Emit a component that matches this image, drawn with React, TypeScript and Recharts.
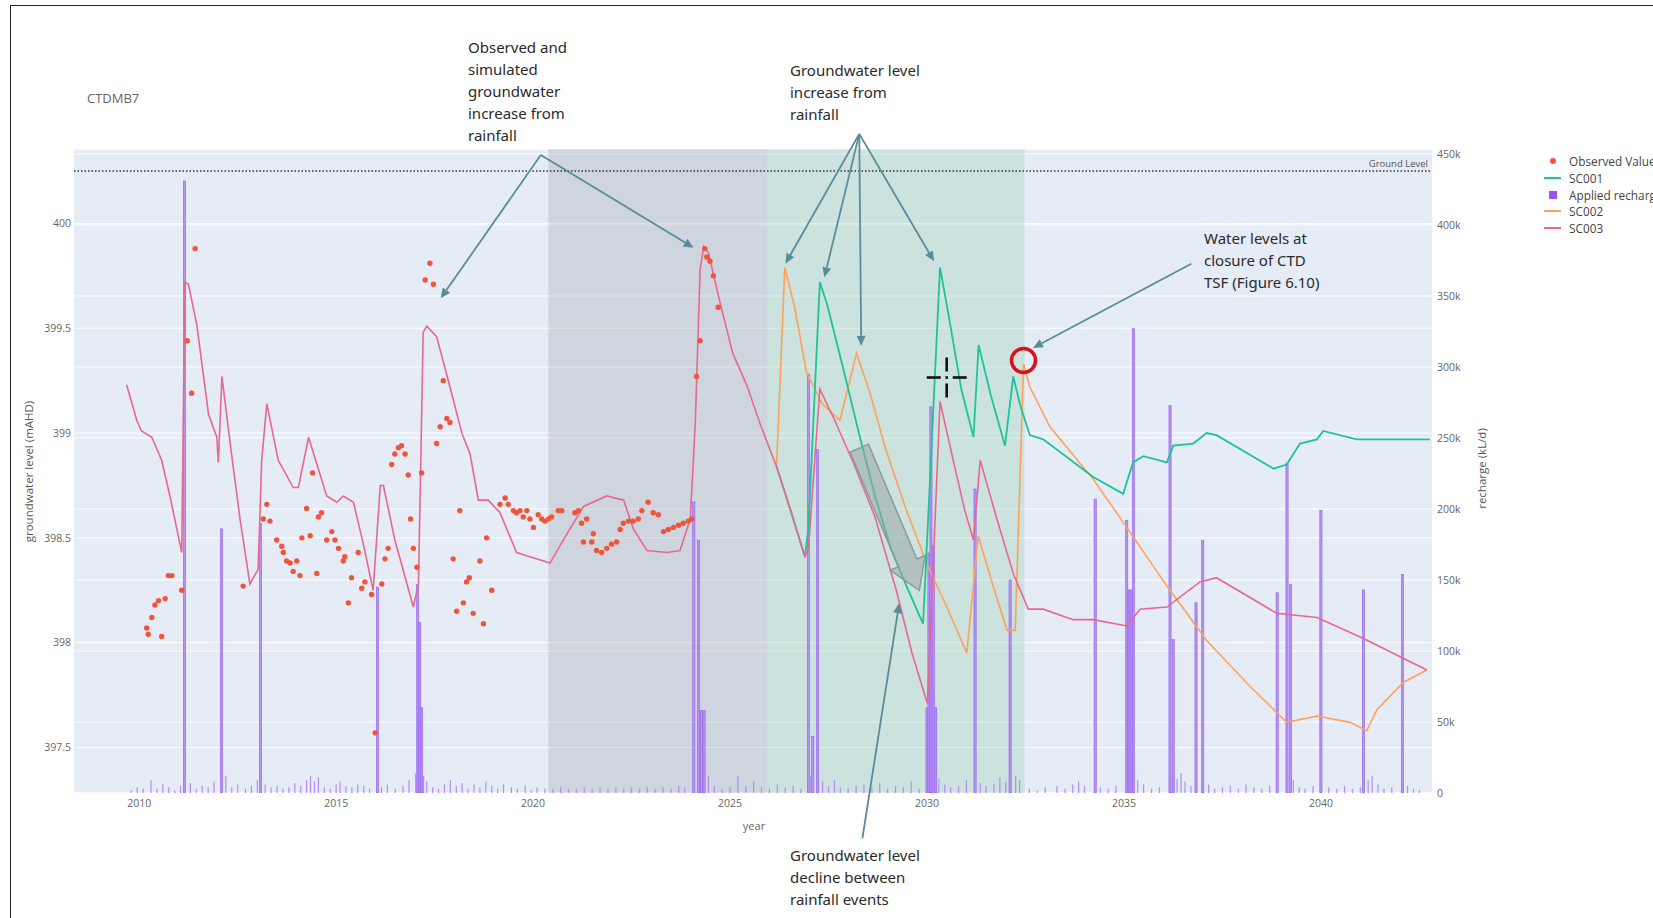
import React from "react";
import {
  ComposedChart,
  Line,
  Bar,
  XAxis,
  YAxis,
  CartesianGrid,
  ReferenceArea,
  ReferenceLine,
  ReferenceDot,
} from "recharts";

type Pt = [number, number];

// axis ticks
const yearTicks = [2010, 2015, 2020, 2025, 2030, 2035, 2040];
const levelTicks = [397.5, 398, 398.5, 399, 399.5, 400];
const rechargeTicks = [0, 50000, 100000, 150000, 200000, 250000, 300000, 350000, 400000, 450000];

const groundLevel = 400.25;

// shaded periods (year from, year to)
const greyPeriod: Pt = [2020.385, 2025.95];
const greenPeriod: Pt = [2025.95, 2032.48];

// observed groundwater level [year, mAHD]
const observed: Pt[] = [
  [2010.19, 398.07], [2010.23, 398.04], [2010.32, 398.12], [2010.4, 398.18], [2010.49, 398.2],
  [2010.57, 398.03], [2010.66, 398.21], [2010.74, 398.32], [2010.83, 398.32], [2011.08, 398.25],
  [2011.22, 399.44], [2011.33, 399.19], [2011.42, 399.88], [2012.64, 398.27], [2013.15, 398.59],
  [2013.24, 398.66], [2013.32, 398.58], [2013.49, 398.49], [2013.62, 398.46], [2013.66, 398.43],
  [2013.74, 398.39], [2013.83, 398.38], [2013.91, 398.34], [2014.0, 398.39], [2014.08, 398.32],
  [2014.13, 398.5], [2014.25, 398.64], [2014.34, 398.51], [2014.4, 398.81], [2014.51, 398.33],
  [2014.55, 398.6], [2014.63, 398.62], [2014.76, 398.49], [2014.89, 398.53], [2014.97, 398.49],
  [2015.06, 398.45], [2015.18, 398.39], [2015.22, 398.41], [2015.31, 398.19], [2015.39, 398.31],
  [2015.56, 398.43], [2015.65, 398.26], [2015.73, 398.29], [2015.9, 398.23], [2015.99, 397.57],
  [2016.16, 398.28], [2016.24, 398.4], [2016.32, 398.45], [2016.41, 398.85], [2016.49, 398.9],
  [2016.58, 398.93], [2016.66, 398.94], [2016.75, 398.9], [2016.83, 398.8], [2016.89, 398.59],
  [2016.96, 398.45], [2017.05, 398.36], [2017.17, 398.81], [2017.26, 399.73], [2017.38, 399.81],
  [2017.47, 399.71], [2017.55, 398.95], [2017.64, 399.03], [2017.72, 399.25], [2017.81, 399.07],
  [2017.89, 399.05], [2017.97, 398.4], [2018.06, 398.15], [2018.14, 398.63], [2018.23, 398.19],
  [2018.31, 398.29], [2018.38, 398.31], [2018.48, 398.14], [2018.65, 398.39], [2018.74, 398.09],
  [2018.82, 398.5], [2018.95, 398.25], [2019.16, 398.66], [2019.29, 398.69], [2019.37, 398.66],
  [2019.5, 398.63], [2019.58, 398.62], [2019.67, 398.63], [2019.75, 398.6], [2019.84, 398.63],
  [2019.92, 398.59], [2020.01, 398.55], [2020.13, 398.61], [2020.22, 398.59], [2020.3, 398.58],
  [2020.39, 398.59], [2020.47, 398.6], [2020.64, 398.63], [2020.73, 398.63], [2021.06, 398.62],
  [2021.15, 398.63], [2021.23, 398.57], [2021.28, 398.48], [2021.36, 398.59], [2021.49, 398.48],
  [2021.53, 398.52], [2021.61, 398.44], [2021.74, 398.43], [2021.87, 398.45], [2021.99, 398.47],
  [2022.12, 398.48], [2022.21, 398.54], [2022.29, 398.57], [2022.42, 398.58], [2022.54, 398.58],
  [2022.67, 398.59], [2022.76, 398.63], [2022.92, 398.67], [2023.05, 398.62], [2023.18, 398.61],
  [2023.31, 398.53], [2023.43, 398.54], [2023.56, 398.55], [2023.69, 398.56], [2023.81, 398.57],
  [2023.94, 398.58], [2024.03, 398.59], [2024.15, 399.27], [2024.24, 399.44], [2024.36, 399.88],
  [2024.41, 399.84], [2024.49, 399.82], [2024.58, 399.75], [2024.7, 399.6],
];

// SC003 (includes the shared calibration history)
const sc003: Pt[] = [
  [2009.68, 399.23], [2009.94, 399.06], [2010.06, 399.01], [2010.32, 398.98], [2010.57, 398.87],
  [2010.78, 398.7], [2011.08, 398.43], [2011.16, 399.72], [2011.25, 399.71], [2011.46, 399.52],
  [2011.76, 399.09], [2011.97, 398.98], [2012.01, 398.86], [2012.1, 399.27], [2012.31, 398.95],
  [2012.56, 398.59], [2012.81, 398.28], [2013.02, 398.35], [2013.11, 398.87], [2013.24, 399.14],
  [2013.53, 398.87], [2013.91, 398.74], [2014.04, 398.74], [2014.3, 398.98], [2014.76, 398.7],
  [2015.02, 398.67], [2015.18, 398.7], [2015.44, 398.67], [2015.69, 398.47], [2015.94, 398.25],
  [2016.12, 398.75], [2016.2, 398.75], [2016.49, 398.49], [2016.96, 398.17], [2017.09, 398.28],
  [2017.21, 399.48], [2017.3, 399.51], [2017.55, 399.46], [2017.89, 399.22], [2018.19, 399.0],
  [2018.4, 398.9], [2018.61, 398.68], [2018.86, 398.68], [2019.16, 398.62], [2019.58, 398.43],
  [2019.92, 398.41], [2020.43, 398.38], [2020.77, 398.49], [2021.28, 398.65], [2021.87, 398.7],
  [2022.3, 398.68], [2022.55, 398.54], [2022.89, 398.44], [2023.4, 398.43], [2023.73, 398.44],
  [2023.99, 398.59], [2024.12, 399.06], [2024.24, 399.78], [2024.33, 399.89], [2024.45, 399.86],
  [2024.75, 399.62], [2025.07, 399.38], [2025.42, 399.23], [2025.79, 399.03], [2026.18, 398.84],
  [2026.54, 398.63], [2026.9, 398.41], [2026.99, 398.45], [2027.28, 399.21], [2027.61, 399.08],
  [2028.15, 398.85], [2028.68, 398.6], [2029.22, 398.25], [2029.62, 397.95], [2030.01, 397.71],
  [2030.33, 399.15], [2030.69, 398.85], [2030.96, 398.63], [2031.18, 398.49], [2031.35, 398.87],
  [2031.76, 398.6], [2032.19, 398.33], [2032.57, 398.16], [2032.95, 398.16], [2033.71, 398.11],
  [2034.22, 398.11], [2035.07, 398.08], [2035.41, 398.16], [2036.09, 398.17], [2036.93, 398.29],
  [2037.35, 398.31], [2038.88, 398.14], [2039.9, 398.12], [2041.08, 398.02], [2042.69, 397.87],
];

const sc001: Pt[] = [
  [2026.18, 398.84], [2026.54, 398.63], [2026.9, 398.41], [2026.99, 398.55], [2027.28, 399.72],
  [2027.47, 399.61], [2027.87, 399.31], [2028.27, 399.0], [2028.68, 398.7], [2029.08, 398.45],
  [2029.48, 398.27], [2029.9, 398.09], [2030.12, 398.95], [2030.33, 399.79], [2030.55, 399.56],
  [2030.87, 399.21], [2031.18, 398.98], [2031.31, 399.42], [2031.62, 399.18], [2031.98, 398.94],
  [2032.19, 399.27], [2032.37, 399.13], [2032.61, 398.99], [2032.95, 398.97], [2034.22, 398.79],
  [2034.98, 398.71], [2035.23, 398.86], [2035.49, 398.89], [2036.09, 398.86], [2036.25, 398.94],
  [2036.76, 398.95], [2037.1, 399.0], [2037.35, 398.99], [2038.8, 398.83], [2039.13, 398.85],
  [2039.47, 398.95], [2039.9, 398.97], [2040.06, 399.01], [2040.91, 398.97], [2041.84, 398.97],
  [2042.77, 398.97],
];

const sc002: Pt[] = [
  [2026.18, 398.84], [2026.39, 399.79], [2026.64, 399.6], [2026.94, 399.29], [2027.34, 399.14],
  [2027.79, 399.06], [2028.21, 399.38], [2028.54, 399.2], [2028.94, 398.93], [2029.48, 398.63],
  [2029.99, 398.38], [2030.55, 398.15], [2031.01, 397.95], [2031.3, 398.51], [2031.68, 398.27],
  [2032.03, 398.06], [2032.24, 398.06], [2032.45, 399.33], [2032.61, 399.22], [2033.12, 399.03],
  [2034.22, 398.78], [2035.07, 398.55], [2036.09, 398.27], [2037.1, 398.01], [2038.21, 397.79],
  [2039.13, 397.62], [2039.9, 397.65], [2040.74, 397.62], [2041.16, 397.58], [2041.42, 397.68],
  [2042.09, 397.81], [2042.69, 397.87],
];

// applied recharge [year, thousand kL/d]
const majorRecharge: Pt[] = [
  [2011.15, 431], [2012.09, 186], [2013.08, 190], [2016.05, 145], [2017.07, 147], [2017.12, 120],
  [2017.17, 60], [2024.08, 205], [2024.2, 178], [2024.27, 58], [2024.34, 58], [2026.99, 295],
  [2027.1, 40], [2027.22, 242], [2030.0, 60], [2030.05, 169], [2030.1, 272], [2030.16, 174],
  [2030.22, 60], [2031.22, 214], [2032.11, 150], [2034.27, 207], [2035.07, 192], [2035.13, 143],
  [2035.18, 143], [2035.24, 327], [2036.17, 273], [2036.25, 108], [2036.83, 134], [2037.0, 178],
  [2038.89, 141], [2039.14, 232], [2039.23, 147], [2040.0, 199], [2041.08, 143], [2042.07, 154],
];

const minorRecharge: Pt[] = [
  [2009.8, 2], [2009.95, 4], [2010.1, 3], [2010.3, 9], [2010.45, 3], [2010.6, 6], [2010.75, 4],
  [2010.9, 2], [2011.05, 5], [2011.3, 7], [2011.45, 3], [2011.6, 5], [2011.75, 4], [2011.9, 8],
  [2012.2, 12], [2012.35, 4], [2012.5, 6], [2012.7, 3], [2012.85, 5], [2013.0, 9], [2013.2, 6],
  [2013.35, 4], [2013.5, 5], [2013.65, 3], [2013.8, 4], [2013.95, 7], [2014.1, 5], [2014.25, 9],
  [2014.35, 12], [2014.45, 8], [2014.55, 11], [2014.7, 4], [2014.85, 3], [2015.0, 6], [2015.1, 8],
  [2015.25, 5], [2015.4, 4], [2015.55, 6], [2015.7, 5], [2015.85, 3], [2016.15, 4], [2016.3, 6],
  [2016.5, 3], [2016.7, 5], [2016.85, 9], [2017.02, 14], [2017.22, 12], [2017.3, 8], [2017.45, 4],
  [2017.6, 3], [2017.75, 6], [2017.9, 9], [2018.05, 5], [2018.2, 7], [2018.35, 3], [2018.5, 6],
  [2018.65, 4], [2018.8, 8], [2018.95, 5], [2019.1, 3], [2019.25, 6], [2019.45, 4], [2019.6, 3],
  [2019.8, 5], [2019.95, 2], [2020.1, 4], [2020.3, 3], [2020.5, 3], [2020.7, 4], [2020.9, 3],
  [2021.1, 3], [2021.3, 4], [2021.5, 3], [2021.7, 4], [2021.9, 3], [2022.1, 4], [2022.3, 3],
  [2022.5, 4], [2022.7, 3], [2022.9, 4], [2023.1, 3], [2023.3, 4], [2023.5, 3], [2023.7, 5],
  [2023.85, 4], [2024.45, 12], [2024.6, 5], [2024.8, 3], [2025.0, 4], [2025.2, 12], [2025.4, 5],
  [2025.6, 8], [2025.8, 4], [2026.0, 3], [2026.2, 6], [2026.4, 4], [2026.6, 5], [2026.8, 3],
  [2027.05, 12], [2027.35, 8], [2027.5, 5], [2027.65, 9], [2027.8, 4], [2028.0, 3], [2028.2, 5],
  [2028.4, 6], [2028.6, 4], [2028.8, 7], [2029.0, 3], [2029.2, 5], [2029.4, 4], [2029.6, 8],
  [2029.8, 3], [2030.3, 10], [2030.45, 6], [2030.6, 4], [2030.8, 5], [2031.0, 9], [2031.35, 7],
  [2031.5, 5], [2031.7, 6], [2031.85, 11], [2032.0, 8], [2032.25, 12], [2032.35, 9], [2032.6, 3],
  [2032.8, 2], [2033.0, 4], [2033.3, 5], [2033.5, 3], [2033.7, 6], [2033.85, 8], [2034.0, 5],
  [2034.4, 4], [2034.6, 3], [2034.8, 5], [2035.35, 9], [2035.5, 6], [2035.7, 3], [2035.9, 4],
  [2036.35, 10], [2036.45, 14], [2036.55, 8], [2036.7, 5], [2037.15, 6], [2037.3, 3], [2037.5, 4],
  [2037.7, 5], [2037.9, 3], [2038.1, 6], [2038.3, 4], [2038.5, 3], [2038.7, 5], [2039.3, 9],
  [2039.45, 4], [2039.6, 3], [2039.8, 5], [2040.2, 4], [2040.4, 3], [2040.6, 5], [2040.8, 3],
  [2041.0, 4], [2041.2, 9], [2041.3, 12], [2041.45, 6], [2041.6, 3], [2041.8, 4], [2042.2, 5],
  [2042.35, 3], [2042.5, 2],
];

// annotation arrows [from, to] in [year, mAHD]
const arrows: [Pt, Pt][] = [
  [[2020.195, 400.326], [2017.655, 399.643]],
  [[2020.195, 400.326], [2024.075, 399.884]],
  [[2028.28, 400.427], [2026.405, 399.808]],
  [[2028.28, 400.427], [2027.395, 399.743]],
  [[2028.28, 400.427], [2028.33, 399.416]],
  [[2028.28, 400.427], [2030.18, 399.819]],
  [[2036.71, 399.808], [2032.69, 399.406]],
  [[2028.36, 397.067], [2029.295, 398.189]],
];
const declineArrow: [Pt, Pt] = [[2028.28, 398.928], [2029.805, 398.249]];
const closurePoint: Pt = [2032.45, 399.346];
const cursorPoint: Pt = [2030.5, 399.265];

const toLevel = (pts: Pt[]) => pts.map(([year, level]) => ({ year, level }));
const rechargeData = [...majorRecharge, ...minorRecharge]
  .map(([year, k]) => ({ year, recharge: k * 1000 }))
  .sort((a, b) => a.year - b.year);

const C = {
  observed: "#EF553B",
  sc001: "#1cc497",
  recharge: "#AB63FA",
  sc002: "#FFA15A",
  sc003: "#e9678f",
  arrow: "#5a8c97",
};

const tick = { fontSize: 10.5, fill: "#666", fontFamily: "Open Sans" };

function RechargeBar(props: any) {
  const { x, y, width, height } = props;
  if (![x, y, width, height].every((v) => Number.isFinite(v)) || height <= 0) return null;
  const cx = x + width / 2;
  const big = height > 20;
  return (
    <rect
      x={cx - (big ? 1.1 : 0.6)}
      y={y}
      width={big ? 2.2 : 1.2}
      height={height}
      fill={big ? "#b890f6" : "#b48cf3"}
      stroke={big ? "#8f62e8" : "none"}
      strokeWidth={0.6}
    />
  );
}

function ArrowShape(props: any) {
  const { x1, y1, x2, y2 } = props;
  if (![x1, y1, x2, y2].every((v) => Number.isFinite(v))) return null;
  const a = Math.atan2(y2 - y1, x2 - x1);
  const L = 10;
  const W = 4.5;
  const bx = x2 - L * Math.cos(a);
  const by = y2 - L * Math.sin(a);
  const s = Math.sin(a);
  const c = Math.cos(a);
  return (
    <g>
      <line x1={x1} y1={y1} x2={bx} y2={by} stroke={C.arrow} strokeWidth={1.8} />
      <polygon
        points={`${x2},${y2} ${bx + W * s},${by - W * c} ${bx - W * s},${by + W * c}`}
        fill={C.arrow}
      />
    </g>
  );
}

function BlockArrowShape(props: any) {
  const { x1, y1, x2, y2 } = props;
  if (![x1, y1, x2, y2].every((v) => Number.isFinite(v))) return null;
  const a = Math.atan2(y2 - y1, x2 - x1);
  const s = Math.sin(a);
  const c = Math.cos(a);
  const shaft = 10;
  const head = 19;
  const headLen = 30;
  const bx = x2 - headLen * c;
  const by = y2 - headLen * s;
  const p = (x: number, y: number, w: number) => `${x + w * s},${y - w * c}`;
  const pts = [
    p(x1, y1, shaft),
    p(bx, by, shaft),
    p(bx, by, head),
    `${x2},${y2}`,
    p(bx, by, -head),
    p(bx, by, -shaft),
    p(x1, y1, -shaft),
  ].join(" ");
  return <polygon points={pts} fill="#9aa6a6" fillOpacity={0.55} stroke="#8d9a9a" strokeWidth={1.5} />;
}

function CursorShape(props: any) {
  const { cx, cy } = props;
  if (!Number.isFinite(cx) || !Number.isFinite(cy)) return null;
  const st = { stroke: "#111", strokeWidth: 2.6 };
  return (
    <g>
      <line x1={cx - 20} y1={cy} x2={cx - 6} y2={cy} {...st} />
      <line x1={cx + 6} y1={cy} x2={cx + 20} y2={cy} {...st} />
      <line x1={cx} y1={cy - 20} x2={cx} y2={cy - 6} {...st} />
      <line x1={cx} y1={cy + 6} x2={cx} y2={cy + 20} {...st} />
      <rect x={cx - 1.3} y={cy - 1.3} width={2.6} height={2.6} fill="#111" />
    </g>
  );
}

const noteStyle: React.CSSProperties = {
  position: "absolute",
  fontFamily: "Noto Sans",
  fontSize: 15,
  lineHeight: "22px",
  color: "#2a2a2a",
  whiteSpace: "nowrap",
};

const legendItems = [
  { name: "Observed Value", kind: "dot", color: C.observed },
  { name: "SC001", kind: "line", color: C.sc001 },
  { name: "Applied recharge", kind: "square", color: C.recharge },
  { name: "SC002", kind: "line", color: C.sc002 },
  { name: "SC003", kind: "line", color: C.sc003 },
];

export default function App() {
  return (
    <div
      style={{
        position: "absolute",
        left: 0,
        top: 0,
        width: 1653,
        height: 918,
        overflow: "hidden",
        background: "#fff",
        fontFamily: "Open Sans",
      }}
    >
      <div
        style={{
          position: "absolute",
          left: 10,
          top: 5,
          width: 1800,
          height: 1000,
          borderLeft: "1.5px solid #222",
          borderTop: "1.5px solid #222",
        }}
      />
      <div style={{ position: "absolute", left: 0, top: 0 }}>
        <ComposedChart
          width={1653}
          height={918}
          data={rechargeData}
          margin={{ top: 149, right: 171, bottom: 95, left: 14 }}
        >
          <CartesianGrid
            yAxisId="left"
            vertical={false}
            stroke="#ffffff"
            strokeWidth={1}
            fill="#e5ecf6"
            fillOpacity={1}
          />
          <CartesianGrid yAxisId="right" vertical={false} stroke="#ffffff" strokeWidth={1} />
          <XAxis
            dataKey="year"
            type="number"
            domain={[2008.345, 2042.82]}
            allowDataOverflow
            ticks={yearTicks}
            axisLine={false}
            tickLine={false}
            tickSize={0}
            tickMargin={7}
            tick={tick}
            height={30}
          />
          <YAxis
            yAxisId="left"
            type="number"
            domain={[397.283, 400.355]}
            allowDataOverflow
            ticks={levelTicks}
            axisLine={false}
            tickLine={false}
            tickSize={0}
            tickMargin={3}
            tick={tick}
            width={60}
          />
          <YAxis
            yAxisId="right"
            orientation="right"
            type="number"
            domain={[0, 453500]}
            allowDataOverflow
            ticks={rechargeTicks}
            tickFormatter={(v: number) => (v === 0 ? "0" : `${v / 1000}k`)}
            axisLine={false}
            tickLine={false}
            tickSize={0}
            tickMargin={5}
            tick={tick}
            width={50}
          />
          <ReferenceArea
            yAxisId="left"
            x1={greyPeriod[0]}
            x2={greyPeriod[1]}
            fill="#93949c"
            fillOpacity={0.26}
            stroke="none"
            ifOverflow="hidden"
          />
          <ReferenceArea
            yAxisId="left"
            x1={greenPeriod[0]}
            x2={greenPeriod[1]}
            fill="#7fc39a"
            fillOpacity={0.25}
            stroke="none"
            ifOverflow="hidden"
          />
          <Bar
            yAxisId="right"
            dataKey="recharge"
            fill={C.recharge}
            barSize={2}
            shape={RechargeBar}
            isAnimationActive={false}
          />
          <ReferenceLine
            yAxisId="left"
            y={groundLevel}
            stroke="#333"
            strokeWidth={1.5}
            strokeDasharray="1.5 2"
            label={{ value: "Ground Level", position: "insideBottomRight", fontSize: 9.5, fill: "#555", offset: 4 }}
          />
          <Line
            yAxisId="left"
            data={toLevel(observed)}
            dataKey="level"
            stroke="transparent"
            strokeWidth={0}
            dot={{ r: 2.7, fill: C.observed, stroke: "none" }}
            isAnimationActive={false}
          />
          <Line
            yAxisId="left"
            data={toLevel(sc002)}
            dataKey="level"
            stroke={C.sc002}
            strokeWidth={1.6}
            dot={false}
            isAnimationActive={false}
          />
          <Line
            yAxisId="left"
            data={toLevel(sc001)}
            dataKey="level"
            stroke={C.sc001}
            strokeWidth={1.8}
            dot={false}
            isAnimationActive={false}
          />
          <Line
            yAxisId="left"
            data={toLevel(sc003)}
            dataKey="level"
            stroke={C.sc003}
            strokeWidth={1.6}
            dot={false}
            isAnimationActive={false}
          />
          <ReferenceLine
            yAxisId="left"
            segment={[
              { x: declineArrow[0][0], y: declineArrow[0][1] },
              { x: declineArrow[1][0], y: declineArrow[1][1] },
            ]}
            ifOverflow="visible"
            shape={BlockArrowShape}
          />
          {arrows.map(([from, to], i) => (
            <ReferenceLine
              key={i}
              yAxisId="left"
              segment={[
                { x: from[0], y: from[1] },
                { x: to[0], y: to[1] },
              ]}
              ifOverflow="visible"
              shape={ArrowShape}
            />
          ))}
          <ReferenceDot
            yAxisId="left"
            x={closurePoint[0]}
            y={closurePoint[1]}
            r={12}
            fill="none"
            stroke="#d6121c"
            strokeWidth={3.5}
            ifOverflow="visible"
          />
          <ReferenceDot
            yAxisId="left"
            x={cursorPoint[0]}
            y={cursorPoint[1]}
            r={1}
            ifOverflow="visible"
            shape={CursorShape}
          />
        </ComposedChart>
      </div>

      <div style={{ position: "absolute", left: 87, top: 89, fontSize: 13, color: "#666" }}>CTDMB7</div>

      <div
        style={{
          position: "absolute",
          left: 28 - 150,
          top: 473 - 9,
          width: 300,
          textAlign: "center",
          fontSize: 11.5,
          color: "#555",
          transform: "rotate(-90deg)",
        }}
      >
        groundwater level (mAHD)
      </div>
      <div
        style={{
          position: "absolute",
          left: 1481 - 150,
          top: 470 - 9,
          width: 300,
          textAlign: "center",
          fontSize: 11.5,
          color: "#555",
          transform: "rotate(-90deg)",
        }}
      >
        recharge (kL/d)
      </div>
      <div
        style={{
          position: "absolute",
          left: 754 - 50,
          top: 818,
          width: 100,
          textAlign: "center",
          fontSize: 11,
          color: "#666",
        }}
      >
        year
      </div>

      {legendItems.map((it, i) => (
        <div
          key={it.name}
          style={{
            position: "absolute",
            left: 1544,
            top: 153 + i * 16.8,
            height: 16,
            display: "flex",
            alignItems: "center",
            fontSize: 11.8,
            color: "#444",
            whiteSpace: "nowrap",
          }}
        >
          <div style={{ width: 17, height: 16, position: "relative", marginRight: 8 }}>
            {it.kind === "dot" && (
              <div
                style={{
                  position: "absolute",
                  left: 5.5,
                  top: 5,
                  width: 6,
                  height: 6,
                  borderRadius: 3,
                  background: it.color,
                }}
              />
            )}
            {it.kind === "line" && (
              <div
                style={{ position: "absolute", left: 0, top: 7, width: 17, height: 2, background: it.color }}
              />
            )}
            {it.kind === "square" && (
              <div
                style={{
                  position: "absolute",
                  left: 4.5,
                  top: 4,
                  width: 8,
                  height: 8,
                  background: "#9a55ee",
                }}
              />
            )}
          </div>
          <span>{it.name}</span>
        </div>
      ))}

      <div style={{ ...noteStyle, left: 468, top: 36 }}>
        Observed and
        <br />
        simulated
        <br />
        groundwater
        <br />
        increase from
        <br />
        rainfall
      </div>
      <div style={{ ...noteStyle, left: 790, top: 59 }}>
        Groundwater level
        <br />
        increase from
        <br />
        rainfall
      </div>
      <div style={{ ...noteStyle, left: 1204, top: 227 }}>
        Water levels at
        <br />
        closure of CTD
        <br />
        TSF (Figure 6.10)
      </div>
      <div style={{ ...noteStyle, left: 790, top: 844 }}>
        Groundwater level
        <br />
        decline between
        <br />
        rainfall events
      </div>
    </div>
  );
}
